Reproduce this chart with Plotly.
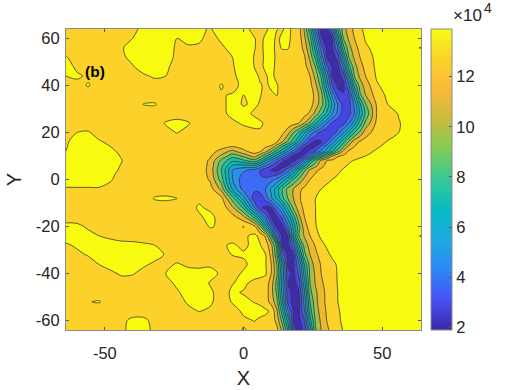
import plotly.graph_objects as go

# grid, z in units of 1e4; finer through the trough
x_vals = [-64, -60, -56, -52, -48, -44, -40, -36, -32, -28, -24, -20, -16, -12, -8, -4, 0,
          4, 6, 8, 10, 12, 14, 16, 18, 20, 22, 24, 26, 28, 30, 32, 34, 36, 38, 40, 42, 44,
          48, 52, 56, 60, 64]
y_vals = [64, 60, 56, 52, 48, 44, 40, 36, 32, 28, 24, 20, 16, 14, 12, 10, 8, 6, 4, 2, 0,
          -4, -8, -12, -16, -20, -24, -28, -32, -36, -40, -44, -48, -52, -56, -60, -64]
z_vals = [
    [12.7, 12.7, 12.7, 12.7, 12.7, 12.8, 12.9, 13.1, 13.3, 13.3, 13.3, 13.3, 13.1, 12.95, 13.3, 13.3, 13.2,
     12.8, 12.85, 12.9, 13.15, 13.02, 12.95, 13.15, 12.85, 12.4, 10.8, 8.3, 5.0, 2.7, 2.7, 4.9, 8.4, 10.6, 11.5, 12.25, 12.85, 13.2,
     13.4, 13.5, 13.5, 13.5, 13.5],
    [12.7, 12.7, 12.7, 12.7, 12.7, 12.8, 13.0, 13.3, 13.4, 13.3, 13.0, 13.1, 13.1, 12.8, 13.1, 13.3, 13.3,
     13.02, 12.85, 13.1, 13.2, 12.9, 13.1, 13.15, 12.8, 12.5, 11.2, 9.4, 6.3, 3.1, 2.6, 3.0, 6.4, 10.0, 11.2, 12.0, 12.5, 13.1,
     13.4, 13.5, 13.5, 13.5, 13.5],
    [12.7, 12.7, 12.7, 12.7, 12.7, 12.95, 13.2, 13.4, 13.4, 13.3, 12.9, 12.95, 12.9, 12.7, 12.9, 13.2, 13.3,
     13.02, 12.85, 13.15, 13.2, 12.85, 13.05, 13.05, 12.75, 12.6, 11.6, 10.1, 7.4, 4.5, 2.7, 2.8, 4.9, 8.6, 10.6, 11.6, 12.3, 12.85,
     13.3, 13.5, 13.5, 13.15, 12.97],
    [13.05, 12.7, 12.7, 12.7, 12.7, 12.9, 13.15, 13.4, 13.4, 13.2, 12.9, 12.7, 12.7, 12.7, 12.7, 13.0, 13.3,
     12.97, 12.85, 13.1, 13.2, 12.9, 12.75, 12.7, 12.7, 12.7, 12.1, 10.7, 8.6, 5.7, 3.0, 2.6, 3.3, 6.8, 10.1, 11.2, 12.0, 12.6,
     13.2, 13.5, 13.5, 13.5, 13.5],
    [13.3, 12.85, 12.7, 12.7, 12.7, 12.7, 12.95, 13.3, 13.3, 13.1, 12.8, 12.7, 12.7, 12.7, 12.7, 12.95, 13.3,
     12.98, 12.88, 13.1, 13.2, 12.85, 12.7, 12.7, 12.7, 12.7, 12.4, 11.3, 9.9, 7.1, 4.3, 2.8, 2.7, 5.1, 8.6, 10.6, 11.6, 12.3,
     13.2, 13.5, 13.5, 13.5, 13.5],
    [13.0, 13.1, 12.9, 12.7, 12.7, 12.7, 12.7, 12.9, 13.1, 13.0, 12.7, 12.7, 12.7, 12.7, 12.7, 12.85, 13.3,
     13.2, 12.9, 12.95, 13.15, 12.85, 12.7, 12.7, 12.7, 12.7, 12.6, 12.0, 10.6, 8.9, 5.9, 2.9, 2.6, 3.3, 6.9, 10.1, 11.2, 12.0,
     13.1, 13.4, 13.5, 13.5, 13.5],
    [12.7, 12.8, 13.05, 12.7, 12.7, 12.7, 12.7, 12.7, 12.7, 12.7, 12.7, 12.7, 12.7, 12.7, 13.05, 12.75, 13.2,
     13.2, 13.05, 12.9, 13.1, 13.05, 12.75, 12.7, 12.7, 12.7, 12.6, 12.3, 11.2, 9.6, 6.8, 4.0, 2.8, 2.7, 4.8, 8.2, 10.5, 11.4,
     12.9, 13.3, 13.5, 13.5, 13.5],
    [12.7, 12.7, 12.7, 12.7, 12.7, 12.7, 12.7, 12.7, 12.7, 12.7, 12.7, 12.7, 12.7, 12.7, 12.95, 13.05, 13.0,
     13.3, 13.03, 12.85, 12.9, 13.03, 12.75, 12.7, 12.7, 12.7, 12.6, 12.5, 11.7, 10.4, 8.0, 5.6, 3.5, 3.1, 3.7, 6.6, 9.8, 11.0,
     12.5, 13.2, 13.5, 13.5, 13.5],
    [12.7, 12.7, 12.7, 12.7, 12.7, 12.7, 12.7, 13.02, 13.05, 12.7, 12.7, 12.7, 12.7, 12.7, 12.85, 13.2, 12.95,
     13.1, 12.95, 12.75, 12.7, 12.7, 12.7, 12.7, 12.7, 12.7, 12.6, 12.45, 11.5, 10.5, 8.8, 6.8, 4.9, 3.6, 3.6, 5.3, 7.8, 9.9,
     12.1, 13.0, 13.4, 13.5, 13.5],
    [12.7, 12.7, 12.7, 12.7, 12.7, 12.7, 12.7, 12.7, 12.7, 12.7, 12.7, 12.7, 12.7, 12.7, 12.8, 13.2, 13.2,
     12.9, 12.75, 12.7, 12.7, 12.7, 12.7, 12.7, 12.7, 12.7, 12.4, 11.8, 10.6, 9.3, 7.8, 6.0, 4.6, 3.6, 3.6, 4.9, 7.2, 9.2,
     12.0, 12.6, 13.05, 13.4, 13.5],
    [12.7, 12.7, 12.7, 12.7, 12.7, 12.7, 12.7, 12.7, 12.7, 13.05, 13.2, 13.05, 12.7, 12.7, 12.7, 12.85, 13.1,
     13.2, 13.1, 12.9, 12.7, 12.7, 12.7, 12.6, 12.4, 12.0, 11.0, 9.8, 8.2, 6.5, 5.0, 3.8, 3.4, 3.6, 4.8, 6.5, 8.4, 10.2,
     12.2, 12.6, 12.95, 13.3, 13.5],
    [12.7, 13.0, 13.05, 12.8, 12.7, 12.7, 12.7, 12.7, 12.7, 12.85, 13.02, 12.85, 12.7, 12.7, 12.7, 12.7, 12.7,
     12.85, 12.92, 12.85, 12.7, 12.7, 12.3, 11.4, 10.0, 8.8, 7.2, 5.6, 4.6, 3.6, 3.2, 3.3, 4.4, 5.8, 7.4, 8.9, 10.2, 11.6,
     12.4, 12.7, 13.0, 13.4, 13.5],
    [12.95, 13.15, 13.3, 13.05, 12.9, 12.7, 12.7, 12.7, 12.7, 12.7, 12.7, 12.7, 12.7, 12.7, 12.7, 12.7, 12.7,
     12.7, 12.7, 12.7, 12.7, 12.1, 11.0, 9.8, 8.4, 6.8, 5.0, 3.4, 2.7, 2.9, 4.0, 5.4, 7.0, 8.7, 10.2, 11.6, 12.1, 12.35,
     12.75, 13.05, 13.4, 13.5, 13.5],
    [12.97, 13.2, 13.35, 13.2, 13.0, 12.75, 12.7, 12.7, 12.7, 12.7, 12.7, 12.7, 12.7, 12.7, 12.45, 12.0, 12.3,
     12.6, 12.4, 12.1, 11.8, 10.4, 9.0, 7.8, 6.3, 4.8, 3.1, 2.6, 3.0, 4.2, 5.4, 6.8, 8.3, 9.8, 11.3, 12.0, 12.25, 12.5,
     12.9, 13.2, 13.45, 13.5, 13.5],
    [13.0, 13.3, 13.4, 13.3, 13.1, 12.9, 12.7, 12.7, 12.7, 12.7, 12.7, 12.7, 12.7, 12.5, 11.6, 10.7, 11.8,
     12.4, 12.1, 11.3, 10.0, 8.6, 7.4, 6.0, 4.5, 3.2, 2.6, 3.2, 4.0, 5.2, 6.5, 8.0, 9.6, 11.3, 12.1, 12.3, 12.55, 12.75,
     13.1, 13.3, 13.5, 13.5, 13.5],
    [13.15, 13.35, 13.4, 13.35, 13.15, 12.97, 12.7, 12.7, 12.7, 12.7, 12.7, 12.7, 12.7, 12.15, 10.8, 9.4, 10.2,
     11.5, 10.3, 9.2, 7.9, 6.6, 5.2, 3.9, 2.75, 2.6, 3.2, 4.8, 6.6, 8.0, 9.4, 11.0, 11.9, 12.15, 12.4, 12.65, 12.85, 13.0,
     13.3, 13.4, 13.5, 13.5, 13.5],
    [13.25, 13.4, 13.4, 13.4, 13.2, 13.02, 12.7, 12.7, 12.7, 12.7, 12.7, 12.7, 12.7, 11.8, 9.7, 8.2, 8.8,
     9.6, 8.6, 7.0, 5.6, 4.3, 3.2, 2.6, 2.7, 3.5, 5.5, 8.0, 9.6, 11.3, 12.0, 12.2, 12.45, 12.75, 12.9, 13.05, 13.2, 13.4,
     13.5, 13.5, 13.5, 13.5, 13.5],
    [13.3, 13.4, 13.4, 13.35, 13.15, 12.98, 12.7, 12.7, 12.7, 12.7, 12.7, 12.7, 12.7, 11.7, 9.3, 7.0, 6.8,
     7.0, 6.0, 5.0, 4.0, 3.1, 2.6, 2.9, 4.0, 5.5, 7.5, 9.5, 10.6, 11.7, 12.2, 12.45, 12.75, 12.9, 13.05, 13.2, 13.4, 13.5,
     13.5, 13.5, 13.5, 13.5, 13.5],
    [13.3, 13.4, 13.4, 13.3, 13.1, 12.95, 12.7, 12.7, 12.7, 12.7, 12.7, 12.7, 12.7, 11.6, 9.0, 6.0, 5.2,
     4.7, 4.0, 3.4, 2.9, 2.7, 3.3, 4.5, 6.0, 8.0, 9.8, 11.2, 11.8, 12.2, 12.4, 12.75, 12.9, 13.05, 13.2, 13.4, 13.5, 13.5,
     13.5, 13.5, 13.5, 13.5, 13.5],
    [13.25, 13.3, 13.3, 13.25, 13.08, 12.87, 12.7, 12.7, 12.7, 12.7, 12.7, 12.7, 12.7, 11.7, 9.2, 6.0, 4.7,
     4.3, 4.0, 3.7, 3.7, 3.9, 4.8, 6.0, 7.5, 9.1, 10.6, 11.7, 12.1, 12.4, 12.6, 12.85, 13.0, 13.2, 13.35, 13.45, 13.5, 13.5,
     13.5, 13.5, 13.5, 13.5, 13.5],
    [13.2, 13.2, 13.2, 13.2, 13.05, 12.8, 12.7, 12.7, 12.7, 12.7, 12.7, 12.7, 12.7, 11.85, 9.5, 6.0, 4.4,
     4.1, 4.1, 4.2, 4.6, 5.2, 6.3, 7.8, 9.1, 10.2, 11.3, 12.0, 12.3, 12.6, 12.8, 13.0, 13.2, 13.4, 13.5, 13.5, 13.5, 13.5,
     13.5, 13.5, 13.5, 13.5, 13.5],
    [12.96, 12.96, 12.96, 12.96, 12.85, 12.7, 12.7, 12.7, 12.7, 12.7, 12.7, 12.7, 12.7, 12.4, 10.7, 6.8, 4.5,
     4.3, 4.5, 5.0, 6.2, 7.5, 9.0, 10.3, 11.0, 11.8, 12.2, 12.5, 12.8, 13.0, 13.2, 13.4, 13.5, 13.5, 13.5, 13.5, 13.5, 13.5,
     13.5, 13.5, 13.5, 13.5, 13.5],
    [12.7, 12.7, 12.7, 12.7, 12.7, 12.7, 12.7, 12.7, 13.05, 13.1, 13.02, 12.7, 12.85, 12.6, 12.3, 9.5, 6.5,
     3.3, 3.2, 4.4, 5.8, 7.2, 8.7, 10.0, 11.0, 11.9, 12.3, 12.6, 13.0, 13.2, 13.4, 13.5, 13.5, 13.5, 13.5, 13.5, 13.5, 13.5,
     13.5, 13.5, 13.5, 13.5, 13.5],
    [12.7, 12.7, 12.7, 12.7, 12.7, 12.7, 12.7, 12.7, 12.7, 12.7, 12.7, 12.7, 13.1, 12.85, 12.7, 11.2, 8.8,
     5.0, 3.2, 2.7, 2.95, 4.7, 6.3, 8.3, 10.2, 11.6, 12.2, 12.6, 13.0, 13.2, 13.4, 13.5, 13.5, 13.5, 13.5, 13.5, 13.5, 13.5,
     13.5, 13.5, 13.5, 13.5, 13.5],
    [12.7, 12.7, 12.7, 12.7, 12.7, 12.7, 12.7, 12.7, 12.7, 12.7, 12.7, 12.7, 12.9, 13.2, 12.7, 12.4, 11.3,
     8.7, 6.5, 4.5, 2.9, 2.8, 4.2, 6.3, 8.5, 10.7, 12.0, 12.5, 13.0, 13.3, 13.4, 13.5, 13.5, 13.5, 13.5, 13.5, 13.5, 13.5,
     13.5, 13.5, 13.5, 13.5, 13.5],
    [13.2, 13.15, 12.9, 12.7, 12.7, 12.7, 12.7, 12.7, 12.7, 12.7, 12.7, 12.7, 12.7, 13.05, 12.9, 12.7, 13.02,
     12.2, 10.2, 7.5, 4.5, 2.7, 2.7, 4.7, 7.2, 9.7, 11.6, 12.4, 12.95, 13.3, 13.4, 13.5, 13.5, 13.5, 13.5, 13.5, 13.5, 13.5,
     13.5, 13.5, 13.5, 13.5, 13.5],
    [13.3, 13.3, 13.2, 13.0, 12.85, 12.7, 12.7, 12.7, 12.7, 12.7, 12.7, 12.7, 12.7, 12.7, 12.9, 12.7, 12.85,
     13.2, 12.75, 11.8, 9.1, 4.9, 2.7, 2.95, 7.0, 10.0, 11.1, 12.0, 12.7, 13.15, 13.3, 13.4, 13.5, 13.5, 13.5, 13.5, 13.5, 13.5,
     13.5, 13.5, 13.5, 13.2, 12.97],
    [12.9, 13.1, 13.3, 13.3, 13.3, 13.25, 13.2, 13.1, 13.0, 12.8, 12.7, 12.7, 12.7, 12.7, 12.9, 13.1, 12.85,
     13.2, 13.05, 12.5, 11.3, 8.7, 3.0, 2.7, 4.6, 8.0, 10.4, 11.4, 12.1, 12.75, 13.1, 13.3, 13.5, 13.5, 13.5, 13.5, 13.5, 13.5,
     13.5, 13.5, 13.5, 13.5, 13.5],
    [12.7, 12.85, 13.05, 13.3, 13.3, 13.3, 13.3, 13.3, 13.2, 12.95, 12.7, 12.7, 12.7, 12.7, 12.75, 13.02, 13.1,
     13.3, 13.2, 13.0, 11.7, 9.2, 4.7, 2.7, 2.9, 6.3, 9.7, 11.0, 11.8, 12.35, 12.8, 13.15, 13.4, 13.5, 13.5, 13.5, 13.5, 13.5,
     13.5, 13.5, 13.5, 13.5, 13.5],
    [12.7, 12.7, 12.7, 13.02, 13.25, 13.3, 13.3, 13.1, 12.9, 12.85, 13.05, 12.9, 12.85, 12.9, 12.95, 12.75, 12.85,
     13.3, 13.25, 13.05, 12.0, 10.0, 6.5, 2.8, 2.8, 4.8, 8.2, 10.5, 11.4, 12.1, 12.5, 12.8, 13.1, 13.3, 13.5, 13.5, 13.5, 13.5,
     13.5, 13.5, 13.5, 13.5, 13.5],
    [12.7, 12.7, 12.7, 12.7, 12.85, 13.1, 13.05, 12.8, 12.75, 13.0, 13.3, 13.2, 13.2, 13.2, 12.9, 12.75, 13.1,
     13.3, 13.25, 13.1, 12.0, 10.2, 6.8, 3.3, 2.7, 4.2, 7.5, 10.25, 11.2, 12.0, 12.35, 12.75, 13.05, 13.3, 13.5, 13.5, 13.5, 13.5,
     13.5, 13.5, 13.5, 13.5, 13.5],
    [12.7, 12.7, 12.7, 12.7, 12.7, 12.7, 12.7, 12.7, 12.7, 12.75, 13.15, 13.3, 13.3, 12.95, 12.7, 12.97, 13.15,
     12.8, 12.7, 12.55, 11.5, 9.7, 6.4, 3.0, 2.6, 3.5, 6.7, 10.0, 11.1, 11.85, 12.3, 12.65, 13.05, 13.3, 13.5, 13.5, 13.5, 13.5,
     13.5, 13.5, 13.5, 13.5, 13.5],
    [12.7, 12.7, 12.7, 12.7, 12.7, 12.7, 12.7, 12.7, 12.7, 12.7, 12.9, 13.3, 13.3, 13.1, 12.75, 13.1, 12.95,
     12.7, 12.7, 12.5, 11.4, 9.8, 6.7, 3.4, 2.6, 2.9, 5.9, 9.7, 10.8, 11.65, 12.2, 12.6, 13.0, 13.25, 13.5, 13.5, 13.5, 13.5,
     13.5, 13.5, 13.5, 13.5, 13.5],
    [12.7, 12.7, 12.98, 13.04, 12.7, 12.7, 12.7, 12.7, 12.7, 12.7, 12.7, 13.1, 13.3, 13.1, 12.7, 13.05, 13.15,
     12.97, 12.85, 12.5, 11.6, 10.4, 7.2, 3.6, 2.6, 2.8, 5.5, 9.0, 10.7, 11.6, 12.2, 12.6, 13.0, 13.2, 13.5, 13.5, 13.5, 13.5,
     13.5, 13.5, 13.5, 13.5, 13.5],
    [12.7, 12.7, 12.7, 12.7, 12.7, 12.7, 12.7, 12.7, 12.7, 12.7, 12.7, 12.8, 13.02, 12.9, 12.7, 12.75, 13.1,
     13.25, 13.25, 13.15, 12.85, 11.2, 8.4, 5.2, 2.9, 2.8, 4.9, 8.5, 10.5, 11.4, 12.1, 12.5, 12.9, 13.2, 13.5, 13.5, 13.5, 13.5,
     13.5, 13.5, 13.5, 13.5, 13.5],
    [12.7, 12.7, 12.7, 12.7, 12.7, 12.85, 13.15, 13.15, 12.8, 12.7, 12.7, 12.7, 12.7, 12.7, 12.7, 12.7, 12.9,
     13.02, 12.85, 12.75, 12.6, 11.7, 9.6, 6.7, 2.9, 2.7, 4.0, 7.6, 10.2, 11.2, 12.0, 12.4, 12.8, 13.2, 13.5, 13.5, 13.5, 13.5,
     13.5, 13.5, 13.5, 13.5, 13.5],
    [12.7, 12.7, 12.7, 12.7, 12.7, 12.8, 13.3, 13.3, 12.8, 12.7, 12.7, 12.7, 12.7, 12.7, 12.7, 12.7, 13.05,
     12.85, 12.75, 12.7, 12.7, 12.3, 10.7, 7.9, 3.4, 2.6, 3.2, 6.5, 9.9, 11.0, 11.8, 12.3, 12.7, 13.05, 13.2, 13.4, 13.5, 13.5,
     13.5, 13.5, 13.5, 13.5, 13.5],
]
for row in z_vals:
    assert len(row) == len(x_vals), row
assert len(z_vals) == len(y_vals)

band_colors = ["#3F2BA9", "#4545E3", "#3C6CF7", "#2B8FEB", "#12A9D8", "#05B8C2",
               "#1FBFA5", "#55C47C", "#A3BE4A", "#ECB830", "#FCD22A", "#F8FA0F"]
parula = [[0.0, "#3E26A8"], [0.1, "#4752F4"], [0.2, "#2D87F7"], [0.3, "#1CAADF"], [0.4, "#06BBC1"],
          [0.5, "#37C897"], [0.6, "#81CC59"], [0.7, "#C9BC3B"], [0.8, "#FBB93A"], [0.9, "#F9D32A"],
          [1.0, "#F9FB15"]]
x_ticks = [-50, 0, 50]
y_ticks = [-60, -40, -20, 0, 20, 40, 60]
cbar_ticks = [2, 4, 6, 8, 10, 12]

n_lines = len(band_colors) - 1
stepped = [[i / n_lines, c] for i, c in enumerate(band_colors)]

fig = go.Figure()
fig.add_trace(go.Contour(
    x=x_vals, y=y_vals, z=z_vals,
    autocontour=False,
    contours=dict(start=3, end=13, size=1, coloring="fill"),
    colorscale=stepped, showscale=False,
    line=dict(color="#3a3a2a", width=0.8, smoothing=0.9),
    hoverinfo="skip",
))
# empty trace, only there to get the smooth colour bar
fig.add_trace(go.Scatter(
    x=[None], y=[None], mode="markers", showlegend=False,
    marker=dict(color=[2], colorscale=parula, cmin=1.9, cmax=13.9, showscale=True,
                colorbar=dict(x=1.028, xanchor="left", y=0.5, yanchor="middle", len=1, lenmode="fraction",
                              thickness=21, thicknessmode="pixels", tickvals=cbar_ticks,
                              ticktext=[str(t) for t in cbar_ticks], ticks="inside", ticklen=3,
                              tickcolor="#555555", outlinecolor="#8c8c8c", outlinewidth=1,
                              tickfont=dict(family="Liberation Sans", size=16.5, color="#262626"),
                              xpad=0, ypad=0)),
))

axis_style = dict(automargin=False, showgrid=False, zeroline=False, showline=True, mirror="ticks",
                  linecolor="#8c8c8c", linewidth=1, ticks="inside", ticklen=3, tickcolor="#555555",
                  tickfont=dict(family="Liberation Sans", size=16.5, color="#262626"))
fig.update_xaxes(range=[-64, 64], tickvals=x_ticks, ticktext=[str(t) for t in x_ticks], ticklabelstandoff=8,
                 title=dict(text="X", font=dict(family="Liberation Sans", size=20, color="#262626"), standoff=10),
                 **axis_style)
fig.update_yaxes(range=[-64, 64], tickvals=y_ticks, ticktext=[str(t) for t in y_ticks], ticklabelstandoff=2,
                 title=dict(text="Y", font=dict(family="Liberation Sans", size=20, color="#262626"), standoff=8),
                 **axis_style)
fig.add_annotation(x=-53.5, y=46, text="<b>(b)</b>", showarrow=False,
                   font=dict(family="Liberation Sans", size=15.5, color="black"))
fig.add_annotation(xref="paper", yref="paper", x=1.132, y=1.046, xanchor="center", yanchor="middle",
                   text="×10", showarrow=False,
                   font=dict(family="Liberation Sans", size=17, color="#262626"))
fig.add_annotation(xref="paper", yref="paper", x=1.189, y=1.07, xanchor="center", yanchor="middle",
                   text="4", showarrow=False,
                   font=dict(family="Liberation Sans", size=14, color="#262626"))
fig.update_layout(width=520, height=390, margin=dict(l=66, r=99, t=29, b=60),
                  paper_bgcolor="white", plot_bgcolor="white")
# drop the page's default body margin so the figure sits at the window corner
fig.write_html("out.html", config={"displayModeBar": False},
               post_script="document.body.style.margin = '0';")
